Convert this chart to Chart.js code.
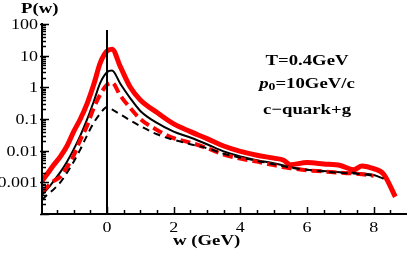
<!DOCTYPE html>
<html>
<head>
<meta charset="utf-8">
<script src="https://cdn.jsdelivr.net/npm/chart.js@4"></script>
<style>
  html, body { margin: 0; padding: 0; background: #fff; }
  canvas { display: block; }
</style>
</head>
<body>
<canvas id="chart" width="407" height="253"></canvas>
<script>
// w grid (GeV) shared by the curves
const wValues = [-1.95, -1.8, -1.6, -1.4, -1.2, -1.0, -0.8, -0.6, -0.4, -0.2, 0, 0.15, 0.4, 0.7, 1.0, 1.5,
  2.0, 2.5, 3.0, 3.5, 4.0, 4.5, 5.0, 5.3, 5.5, 6.0, 6.5, 7.0, 7.4, 7.65, 8.0, 8.3, 8.65];

// P(w) curves
const redSolid = [0.0011, 0.0018, 0.0035, 0.0065, 0.014, 0.04, 0.1, 0.3, 1.2, 6, 14, 16, 4.5, 1.0, 0.4, 0.16,
  0.07, 0.04, 0.024, 0.014, 0.0095, 0.0072, 0.0058, 0.005, 0.0036, 0.0042, 0.0038, 0.0034, 0.0025, 0.0033, 0.0027, 0.0018, 0.00035];
const blackSolid = [0.0004, 0.0006, 0.0011, 0.0021, 0.0045, 0.011, 0.03, 0.095, 0.35, 1.4, 3.0, 3.4, 1.3, 0.45, 0.18, 0.075,
  0.04, 0.026, 0.016, 0.0095, 0.0066, 0.005, 0.004, 0.0034, 0.003, 0.0025, 0.0023, 0.0021, 0.002, 0.0019, 0.0017, 0.0013, null];
const redDashed = [0.0005, 0.0007, 0.0011, 0.0015, 0.003, 0.007, 0.022, 0.06, 0.22, 0.6, 1.2, 1.4, 0.55, 0.22, 0.1, 0.045,
  0.025, 0.018, 0.012, 0.0075, 0.0056, 0.0045, 0.0035, 0.003, 0.0028, 0.0024, 0.0022, 0.002, 0.0019, 0.0018, 0.0016, null, null];
const blackDashed = [0.00028, 0.0004, 0.0006, 0.001, 0.002, 0.0045, 0.011, 0.03, 0.075, 0.15, 0.24, 0.2, 0.14, 0.09, 0.06, 0.033,
  0.022, 0.016, 0.012, 0.008, 0.006, 0.0048, 0.0037, 0.0032, 0.0029, 0.0025, 0.0022, 0.002, 0.0019, 0.0018, 0.0016, null, null];

// vertical marker at w = 0
const markerX = [0, 0];
const markerY = [0.0001, 65];

// axis ticks
const xMajorTicks = [0, 2, 4, 6, 8];
const yMajorTicks = [100, 10, 1, 0.1, 0.01, 0.001];
const yTickLabels = ["100", "10", "1", "0.1", "0.01", "0.001"];

const SERIF = "'Liberation Serif', 'Times New Roman', serif";

function toPoints(xs, ys) {
  return xs.map((x, i) => ({ x: x, y: ys[i] }));
}

// draw text stretched horizontally like the original
function stretchText(ctx, text, x, y, align, sx) {
  ctx.save();
  ctx.translate(x, y);
  ctx.scale(sx, 1);
  ctx.textAlign = align;
  ctx.textBaseline = "middle";
  ctx.fillText(text, 0, 0);
  ctx.restore();
}

const axesPlugin = {
  id: "axesPlugin",
  afterDraw(chart) {
    const ctx = chart.ctx;
    const xs = chart.scales.x;
    const ys = chart.scales.y;
    const area = chart.chartArea;
    ctx.save();
    ctx.strokeStyle = "#000";
    ctx.fillStyle = "#000";

    // axis lines
    ctx.lineWidth = 2;
    ctx.beginPath();
    ctx.moveTo(area.left, area.top - 1);
    ctx.lineTo(area.left, area.bottom);
    ctx.lineTo(area.right, area.bottom);
    ctx.stroke();

    // x ticks
    ctx.lineWidth = 1.5;
    for (let v = -1.5; v <= 8.51; v += 0.5) {
      const px = Math.round(xs.getPixelForValue(v)) + 0.5;
      const major = xMajorTicks.some(t => Math.abs(t - v) < 1e-6);
      ctx.beginPath();
      ctx.moveTo(px, area.bottom);
      ctx.lineTo(px, area.bottom - (major ? 7 : 4));
      ctx.stroke();
    }

    // y ticks (decades and minors)
    for (let e = -4; e < 2; e++) {
      for (let m = 1; m <= 9; m++) {
        const v = m * Math.pow(10, e);
        const py = Math.round(ys.getPixelForValue(v)) + 0.5;
        ctx.beginPath();
        ctx.moveTo(area.left - (m === 1 ? 2 : 0), py);
        ctx.lineTo(area.left + (m === 1 ? 7 : 4), py);
        ctx.stroke();
      }
    }
    const topY = Math.round(ys.getPixelForValue(100)) + 0.5;
    ctx.beginPath();
    ctx.moveTo(area.left - 2, topY);
    ctx.lineTo(area.left + 7, topY);
    ctx.stroke();

    // tick labels
    ctx.font = "15px " + SERIF;
    yMajorTicks.forEach((v, i) => {
      stretchText(ctx, yTickLabels[i], 38, ys.getPixelForValue(v) + 1, "right", 1.2);
    });
    xMajorTicks.forEach(v => {
      stretchText(ctx, String(v), xs.getPixelForValue(v), 228, "center", 1.2);
    });

    // axis titles
    ctx.font = "bold 15px " + SERIF;
    stretchText(ctx, "P(w)", 21, 9, "left", 1.25);
    stretchText(ctx, "w (GeV)", 173, 241, "left", 1.25);

    // annotation
    const cx = 307;
    stretchText(ctx, "T=0.4GeV", cx, 61, "center", 1.25);
    stretchText(ctx, "c\u2212quark+g", cx, 110, "center", 1.25);

    // p0=10GeV/c with italic p and subscript 0
    const sx = 1.25;
    ctx.font = "italic bold 15px " + SERIF;
    const wp = ctx.measureText("p").width;
    ctx.font = "bold 11px " + SERIF;
    const w0 = ctx.measureText("0").width;
    ctx.font = "bold 15px " + SERIF;
    const wr = ctx.measureText("=10GeV/c").width;
    let x0 = cx - (wp + w0 + wr) * sx / 2;
    ctx.font = "italic bold 15px " + SERIF;
    stretchText(ctx, "p", x0, 84, "left", sx);
    x0 += wp * sx;
    ctx.font = "bold 11px " + SERIF;
    stretchText(ctx, "0", x0, 87, "left", sx);
    x0 += w0 * sx;
    ctx.font = "bold 15px " + SERIF;
    stretchText(ctx, "=10GeV/c", x0, 84, "left", sx);

    ctx.restore();
  }
};

new Chart(document.getElementById("chart"), {
  type: "line",
  data: {
    datasets: [
      {
        label: "marker",
        data: toPoints(markerX, markerY),
        borderColor: "#000",
        borderWidth: 2,
        pointRadius: 0
      },
      {
        label: "black dashed",
        data: toPoints(wValues, blackDashed),
        borderColor: "#000",
        borderWidth: 2,
        borderDash: [7, 5],
        pointRadius: 0
      },
      {
        label: "red dashed",
        data: toPoints(wValues, redDashed),
        borderColor: "#ff0000",
        borderWidth: 4,
        borderDash: [10, 5],
        pointRadius: 0
      },
      {
        label: "black solid",
        data: toPoints(wValues, blackSolid),
        borderColor: "#000",
        borderWidth: 2,
        pointRadius: 0
      },
      {
        label: "red solid",
        data: toPoints(wValues, redSolid),
        borderColor: "#ff0000",
        borderWidth: 5,
        pointRadius: 0
      }
    ]
  },
  options: {
    responsive: false,
    animation: false,
    devicePixelRatio: 1,
    layout: { padding: { left: 42, top: 24, right: 0, bottom: 39 } },
    plugins: {
      legend: { display: false },
      tooltip: { enabled: false }
    },
    elements: { line: { cubicInterpolationMode: "monotone", fill: false, borderJoinStyle: "round" } },
    scales: {
      x: { type: "linear", min: -1.95, max: 9, display: false },
      y: { type: "logarithmic", min: 0.0001, max: 100, display: false }
    }
  },
  plugins: [axesPlugin]
});
</script>
</body>
</html>
